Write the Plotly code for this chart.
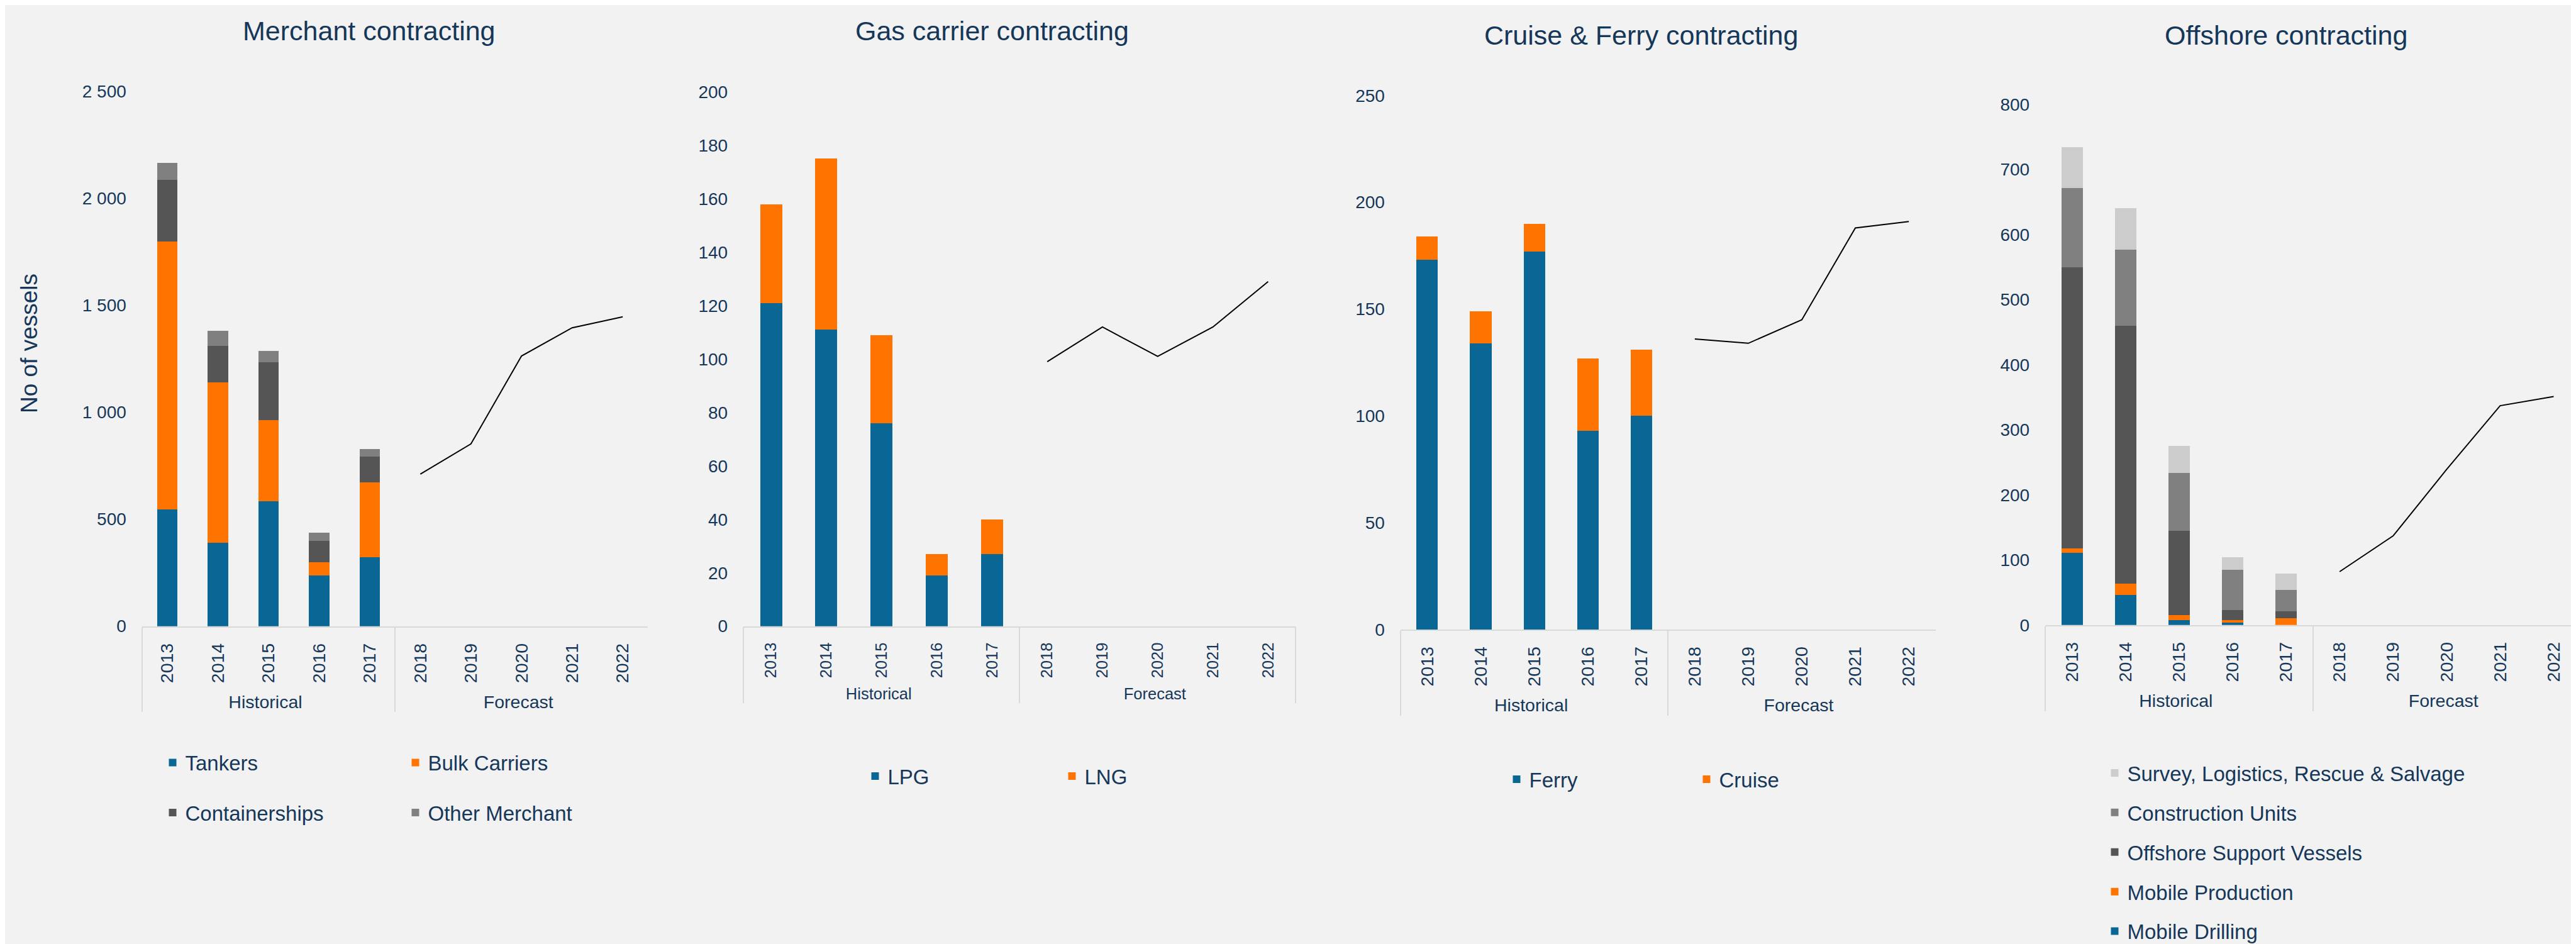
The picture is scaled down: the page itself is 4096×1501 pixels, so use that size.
import plotly.graph_objects as go

W, H = 4096, 1501
FONT = "Liberation Sans, Arial, sans-serif"
TEXT = "#15375A"
BG = "#F2F2F2"
AXC = "#D9D9D9"
BLUE, ORANGE = "#0A6694", "#FF7300"
DGRAY, MGRAY, LGRAY = "#555555", "#808080", "#CCCCCC"

# ---------------- data ----------------
periods = ["Historical", "Forecast"]
hist_years = ["2013", "2014", "2015", "2016", "2017"]
fore_years = ["2018", "2019", "2020", "2021", "2022"]

titles = ["Merchant contracting", "Gas carrier contracting",
          "Cruise & Ferry contracting", "Offshore contracting"]
y_title = "No of vessels"

merchant_tankers = [547, 389, 585, 236, 322]
merchant_bulk = [1250, 752, 377, 63, 351]
merchant_container = [288, 168, 271, 99, 120]
merchant_other = [82, 71, 55, 40, 36]
merchant_forecast = [711, 852, 1263, 1395, 1446]

gas_lpg = [121, 111, 76, 19, 27]
gas_lng = [37, 64, 33, 8, 13]
gas_forecast = [99, 112, 101, 112, 129]

cf_ferry = [173, 134, 177, 93, 100]
cf_cruise = [11, 15, 13, 34, 31]
cf_forecast = [136, 134, 145, 188, 191]

off_drilling = [111, 46, 8, 4, 0]
off_production = [7, 18, 7, 4, 10]
off_osv = [432, 396, 130, 15, 11]
off_construction = [121, 117, 89, 62, 33]
off_survey = [63, 63, 41, 19, 25]
off_forecast = [82, 137, 239, 337, 351]

# ---------------- layout geometry (px) ----------------
def px_x(v):
    return v / W

def px_y(v):
    return 1 - v / H

panels = [
    dict(x0=217.8, x1=1022.4, top=137.4, bot=988.3, ymax=2500, dtick=500, xfont=28.5,
         tx=578.8, ty=41.4),
    dict(x0=1174.2, x1=2052.3, top=138.3, bot=988.3, ymax=200, dtick=20, xfont=25.5,
         tx=1569.3, ty=41.4),
    dict(x0=2218.9, x1=3069.7, top=143.9, bot=993.6, ymax=250, dtick=50, xfont=28.5,
         tx=2601.2, ty=47.7),
    dict(x0=3244.1, x1=4095.0, top=158.0, bot=986.5, ymax=800, dtick=100, xfont=28.5,
         tx=3627.4, ty=47.7),
]

hx = [[periods[0]] * len(hist_years), hist_years]
fx = [[periods[1]] * len(fore_years), fore_years]
n_cat = len(hist_years) + len(fore_years)

fig = go.Figure()

def add_bar(name, vals, color, axis, legend, rank=1000):
    fig.add_trace(go.Bar(
        x=hx, y=vals, name=name, marker=dict(color=color, line=dict(width=0)),
        xaxis="x" + axis, yaxis="y" + axis, legend=legend,
        legendgroup=name, legendrank=rank,
    ))

def add_line(vals, axis):
    fig.add_trace(go.Scatter(
        x=fx, y=vals, mode="lines", line=dict(color="#000000", width=2),
        xaxis="x" + axis, yaxis="y" + axis, showlegend=False,
    ))

add_bar("Tankers", merchant_tankers, BLUE, "", "legend")
add_bar("Bulk Carriers", merchant_bulk, ORANGE, "", "legend")
add_bar("Containerships", merchant_container, DGRAY, "", "legend2")
add_bar("Other Merchant", merchant_other, MGRAY, "", "legend2")
add_line(merchant_forecast, "")

add_bar("LPG", gas_lpg, BLUE, "2", "legend3")
add_bar("LNG", gas_lng, ORANGE, "2", "legend3")
add_line(gas_forecast, "2")

add_bar("Ferry", cf_ferry, BLUE, "3", "legend4")
add_bar("Cruise", cf_cruise, ORANGE, "3", "legend4")
add_line(cf_forecast, "3")

add_bar("Mobile Drilling", off_drilling, BLUE, "4", "legend5", 5)
add_bar("Mobile Production", off_production, ORANGE, "4", "legend5", 4)
add_bar("Offshore Support Vessels", off_osv, DGRAY, "4", "legend5", 3)
add_bar("Construction Units", off_construction, MGRAY, "4", "legend5", 2)
add_bar("Survey, Logistics, Rescue & Salvage", off_survey, LGRAY, "4", "legend5", 1)
add_line(off_forecast, "4")

layout = dict(
    width=W, height=H, template="none",
    paper_bgcolor=BG, plot_bgcolor=BG,
    margin=dict(l=0, r=0, t=0, b=0, pad=0),
    font=dict(family=FONT, color=TEXT, size=28),
    barmode="stack", bargap=0.6,
    separators=". ",
    annotations=[],
)

for i, p in enumerate(panels):
    s = "" if i == 0 else str(i + 1)
    layout["xaxis" + s] = dict(
        domain=[px_x(p["x0"]), px_x(p["x1"])], anchor="y" + s, type="multicategory",
        range=[-0.5, n_cat - 0.5],
        showline=True, linecolor=AXC, linewidth=1.5, ticks="", showgrid=False,
        zeroline=False, tickangle=-90, tickfont=dict(size=p["xfont"], color=TEXT, family=FONT),
        showdividers=True, dividercolor=AXC, dividerwidth=1.5, ticklabelstandoff=14,
        fixedrange=True,
    )
    layout["yaxis" + s] = dict(
        domain=[px_y(p["bot"]), px_y(p["top"])], anchor="x" + s,
        range=[0, p["ymax"]], tick0=0, dtick=p["dtick"], showline=False, showgrid=False,
        zeroline=False, ticks="", tickfont=dict(size=28, color=TEXT, family=FONT),
        ticklabelstandoff=24, separatethousands=True, fixedrange=True,
    )
    layout["annotations"].append(dict(
        text=titles[i], xref="paper", yref="paper", x=px_x(p["tx"]), y=px_y(p["ty"]),
        xanchor="center", yanchor="middle", showarrow=False,
        font=dict(size=43, color=TEXT, family=FONT),
    ))

layout["annotations"].append(dict(
    text=y_title, xref="paper", yref="paper", x=px_x(38.5), y=px_y(538.9),
    xanchor="center", yanchor="middle", textangle=-90, showarrow=False,
    font=dict(size=37, color=TEXT, family=FONT),
))

leg = dict(font=dict(size=33, color=TEXT, family=FONT), bgcolor="rgba(0,0,0,0)",
           borderwidth=0, xanchor="left", yanchor="top")
layout["legend"] = dict(leg, orientation="h", x=px_x(246.5), y=px_y(1176.5), entrywidth=341)
layout["legend2"] = dict(leg, orientation="h", x=px_x(246.5), y=px_y(1256), entrywidth=341)
layout["legend3"] = dict(leg, orientation="h", x=px_x(1363.5), y=px_y(1198), entrywidth=268)
layout["legend4"] = dict(leg, orientation="h", x=px_x(2383.5), y=px_y(1203), entrywidth=257)
layout["legend5"] = dict(leg, orientation="v", x=px_x(3334.5), y=px_y(1194),
                         traceorder="grouped", tracegroupgap=17)

fig.update_layout(**layout)
fig.write_html("out.html")
